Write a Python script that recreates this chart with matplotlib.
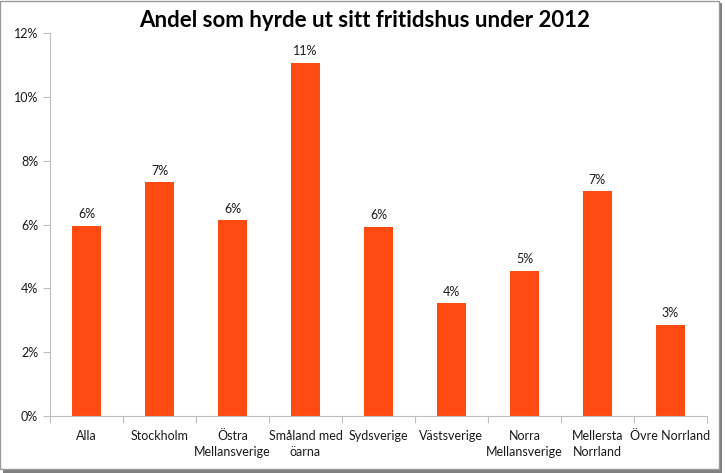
import matplotlib.pyplot as plt
from matplotlib.patches import Rectangle
from matplotlib.ticker import FuncFormatter

plt.rcParams['font.family'] = ['Lato', 'DejaVu Sans']

categories = ["Alla", "Stockholm", "Östra\nMellansverige", "Småland med\nöarna",
              "Sydsverige", "Västsverige", "Norra\nMellansverige", "Mellersta\nNorrland",
              "Övre Norrland"]
values = [5.95, 7.32, 6.13, 11.07, 5.92, 3.53, 4.56, 7.04, 2.85]
labels = ["6%", "7%", "6%", "11%", "6%", "4%", "5%", "7%", "3%"]

fig = plt.figure(figsize=(7.25, 4.73), dpi=100)
ax = fig.add_axes([0.069, 0.1205, 0.906, 0.8095])

x = range(len(categories))
bars = ax.bar(x, values, width=0.4, color="#FF4A12")
for b, lab in zip(bars, labels):
    ax.text(b.get_x() + b.get_width() / 2, b.get_height() + 0.18, lab,
            ha="center", va="bottom", fontsize=9, color="#1A1A1A")

ax.set_xlim(-0.5, len(categories) - 0.5)
ax.set_ylim(0, 12)
ax.set_yticks(range(0, 13, 2))
ax.yaxis.set_major_formatter(FuncFormatter(lambda v, p: f"{int(v)}%"))
ax.set_xticks([i + 0.5 for i in range(-1, len(categories))], minor=False)
ax.set_xticklabels([])
ax.set_xticks(list(x), minor=True)
ax.set_xticklabels(categories, minor=True, fontsize=9, linespacing=1.4, color="#1A1A1A")
ax.tick_params(axis="x", which="minor", length=0, pad=10)
ax.tick_params(axis="x", which="major", length=5, color="#BFBFBF")
ax.tick_params(axis="y", length=5, color="#BFBFBF", labelsize=9, labelcolor="#1A1A1A")

for s in ["top", "right"]:
    ax.spines[s].set_visible(False)
for s in ["left", "bottom"]:
    ax.spines[s].set_color("#BFBFBF")

fig.text(0.503, 0.956, "Andel som hyrde ut sitt fritidshus under 2012", fontsize=16,
         fontweight="bold", ha="center", va="center")

# chart frame with shadow
fig.patches.append(Rectangle((0.004, 0.0), 0.992, 0.994, transform=fig.transFigure,
                             facecolor="#7F7F7F", edgecolor="none", zorder=-2))
fig.patches.append(Rectangle((0.0, 0.008), 0.992, 0.99, transform=fig.transFigure,
                             facecolor="white", edgecolor="#9A9A9A", linewidth=1, zorder=-1))

fig.savefig("out.png", dpi=100)
